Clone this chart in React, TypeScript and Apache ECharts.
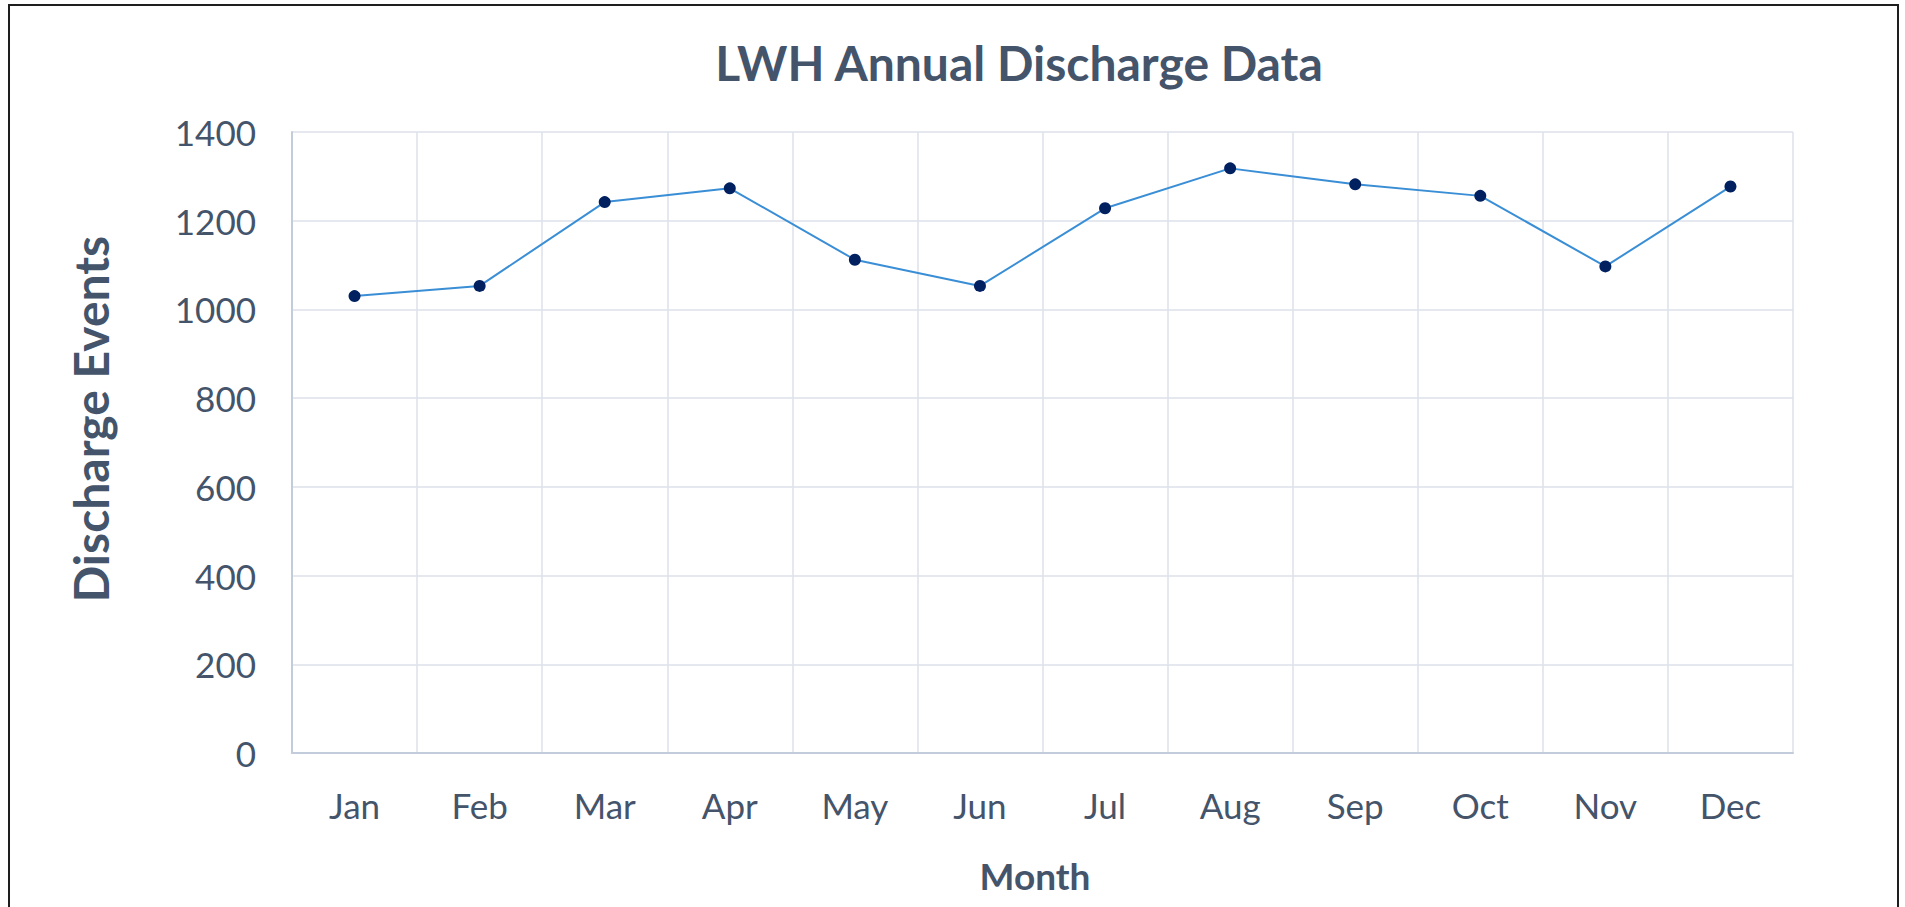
import React, { useEffect, useRef } from "react";
import * as echarts from "echarts";

const months = ["Jan", "Feb", "Mar", "Apr", "May", "Jun", "Jul", "Aug", "Sep", "Oct", "Nov", "Dec"];
const dischargeEvents = [1030, 1053, 1242, 1273, 1112, 1053, 1228, 1318, 1282, 1256, 1097, 1277];
const chartTitle = "LWH Annual Discharge Data";
const xTitle = "Month";
const yTitle = "Discharge Events";
const yMin = 0;
const yMax = 1400;
const yStep = 200;

const TEXT = "#44546A";

export default function App() {
  const ref = useRef<HTMLDivElement>(null);

  useEffect(() => {
    if (!ref.current) return;
    const chart = echarts.init(ref.current, null, { renderer: "svg" });
    chart.setOption({
      animation: false,
      backgroundColor: "transparent",
      grid: { left: 292, right: 112, top: 132, bottom: 154, containLabel: false },
      xAxis: {
        type: "category",
        data: months,
        boundaryGap: true,
        axisLine: { show: true, lineStyle: { color: "#C3CCDA", width: 2 } },
        axisTick: { show: false },
        splitLine: { show: true, lineStyle: { color: "#DDE2EA", width: 1.5 } },
        axisLabel: {
          color: TEXT,
          fontFamily: "Lato",
          fontSize: 35,
          margin: 34,
          interval: 0,
        },
      },
      yAxis: {
        type: "value",
        min: yMin,
        max: yMax,
        interval: yStep,
        axisLine: { show: true, lineStyle: { color: "#C3CCDA", width: 2 } },
        axisTick: { show: false },
        splitLine: { show: true, lineStyle: { color: "#DDE2EA", width: 1.5 } },
        axisLabel: {
          color: TEXT,
          fontFamily: "Lato",
          fontSize: 35,
          margin: 36,
          formatter: (v: number) => String(v),
        },
      },
      series: [
        {
          type: "line",
          data: dischargeEvents,
          symbol: "circle",
          symbolSize: 12,
          lineStyle: { color: "#3A8ED5", width: 2 },
          itemStyle: { color: "#002060", borderWidth: 0 },
          z: 3,
        },
      ],
      graphic: [
        {
          type: "text",
          x: 1019,
          y: 62,
          style: {
            text: chartTitle,
            fill: TEXT,
            font: "bold 48px Lato",
            textAlign: "center",
            textVerticalAlign: "middle",
          },
        },
        {
          type: "text",
          x: 1035,
          y: 875,
          style: {
            text: xTitle,
            fill: TEXT,
            font: "bold 37px Lato",
            textAlign: "center",
            textVerticalAlign: "middle",
          },
        },
        {
          type: "text",
          x: 90,
          y: 419,
          rotation: Math.PI / 2,
          style: {
            text: yTitle,
            fill: TEXT,
            font: "bold 48px Lato",
            textAlign: "center",
            textVerticalAlign: "middle",
          },
        },
      ],
    });
    return () => chart.dispose();
  }, []);

  return (
    <div
      style={{
        position: "fixed",
        left: 0,
        top: 0,
        width: 1905,
        height: 907,
        overflow: "hidden",
        background: "#FFFFFF",
      }}
    >
      <div
        style={{
          position: "absolute",
          left: 8,
          top: 4,
          width: 1887,
          height: 1000,
          borderLeft: "2px solid #1E1E1E",
          borderTop: "2px solid #1E1E1E",
          borderRight: "2px solid #1E1E1E",
        }}
      />
      <div ref={ref} style={{ position: "absolute", left: 0, top: 0, width: 1905, height: 907 }} />
    </div>
  );
}
